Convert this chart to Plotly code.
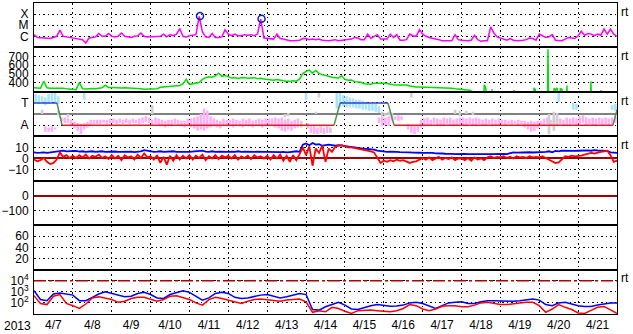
import plotly.graph_objects as go
import pandas as pd

T0 = pd.Timestamp("2013-04-07 00:00")
T1 = pd.Timestamp("2013-04-22 00:00")

# ---------------- data (2-hour samples from 4/7 00UT) ----------------
xray_log = [
    -5.85, -6.1, -6.12, -6.15, -6.2, -6.2, -6.1, -6.0, -5.45, -6.0, -6.05, -6.1,
    -6.2, -6.25, -6.25, -6.3, -6.6, -6.15, -6.1, -6.05, -5.75, -6.0, -6.0, -5.75,
    -6.0, -6.05, -6.0, -5.7, -6.0, -6.05, -6.1, -6.0, -5.95, -5.7, -6.0, -6.05,
    -6.05, -6.0, -6.05, -6.0, -5.8, -6.05, -5.85, -5.95, -5.8, -5.3, -6.0, -6.05,
    -5.95, -5.9, -5.85, -4.2, -5.6, -6.05, -6.1, -5.75, -6.1, -6.1, -6.05, -5.4,
    -5.8, -5.95, -5.8, -5.95, -5.95, -5.85, -5.9, -5.85, -5.95, -5.8, -4.45, -6.15,
    -6.2, -6.2, -6.25, -5.8, -6.2, -6.25, -6.35, -6.4, -6.4, -6.4, -6.35, -6.2,
    -6.2, -6.3, -6.25, -6.3, -6.25, -6.35, -6.4, -6.4, -6.35, -6.3, -6.4, -6.35,
    -6.35, -6.3, -6.25, -6.1, -6.15, -6.3, -6.3, -5.8, -6.2, -6.0, -5.85, -6.25,
    -6.25, -6.25, -5.8, -6.1, -5.85, -6.35, -6.35, -6.3, -5.8, -5.95, -6.0, -5.4,
    -5.8, -6.0, -6.1, -6.15, -6.2, -6.3, -6.4, -6.4, -6.35, -6.4, -5.85, -6.3,
    -6.35, -6.4, -6.4, -6.35, -5.9, -6.3, -6.45, -6.4, -6.4, -5.15, -5.7, -6.05,
    -6.15, -6.3, -6.35, -6.2, -6.35, -6.4, -6.4, -6.35, -6.3, -6.15, -6.2, -6.35,
    -5.8, -5.95, -6.1, -6.05, -5.85, -6.35, -6.4, -6.4, -6.25, -6.1, -6.15, -6.2,
    -5.95, -5.55, -5.9, -5.75, -5.8, -5.95, -5.8, -5.9, -5.35, -5.8, -5.35, -5.8,
    -6.0,
]
flare_h = [102.5, 140.5]
flare_log = [-4.18, -4.42]

speed = [
    345, 342, 340, 420, 345, 340, 342, 338, 340, 342, 335, 330,
    328, 325, 405, 335, 332, 336, 338, 335, 340, 345, 375, 350,
    348, 345, 350, 343, 347, 345, 340, 346, 342, 335, 330, 332,
    335, 338, 335, 352, 355, 358, 362, 365, 362, 372, 390, 440,
    385, 392, 395, 405, 440, 460, 470, 465, 480, 510, 475, 485,
    470, 455, 460, 450, 458, 462, 452, 455, 460, 448, 452, 445,
    440, 435, 430, 438, 428, 425, 420, 418, 425, 420, 445, 505,
    530, 545, 510, 540, 505, 495, 485, 470, 465, 460, 455, 480,
    440, 430, 432, 415, 410, 408, 392, 388, 386, 398, 400, 396,
    398, 395, 385, 380, 378, 376, 375, 378, 365, 358, 355, 356,
    355, 352, 350, 348, 345, 344, 346, 343, 342, 340, 335, 332,
    330, 328, 322, 315,
]
# sparse solar-wind samples after the data gap (hours, km/s; 0 = fill value)
speed_tail_h = [270, 271, 277.5, 278, 278.8, 279.3, 282.3, 282.8, 283.3, 296, 296.4, 296.9,
                308.4, 308.8, 309.6, 310, 317, 317.4, 317.9, 320.8, 321.1, 322, 323, 324,
                324.5, 325, 326, 327, 328.7, 329.1, 329.6, 343.5, 343.9, 344.4, 349.8,
                350.1, 350.6, 360]
speed_tail_v = [315, 0, 0, 380, 350, 0, 0, 330, 0, 0, 320, 0,
                0, 345, 325, 0, 0, 780, 0, 0, 340, 320, 345, 0,
                0, 335, 330, 0, 0, 370, 0, 0, 420, 0, 0,
                320, 0, 0]

# IMF sector (2-hour bins): away (pink) band low/high
away_lo = [
    None, None, None, -1.6, -1.6, -1.6, -1.4, None, -0.6, -0.8, -0.8, -1.0,
    -1.3, -1.5, -1.8, -1.4, -1.2, -1.0, -0.9, -0.9, -0.9, -0.8, -0.9, -0.8,
    -0.8, -0.9, -0.8, -0.9, -0.8, -0.9, -0.8, -0.8, -0.9, -0.8, -0.7, -0.8,
    -1.0, -0.9, -1.0, -1.1, -1.2, -1.0, -1.1, -0.9, -1.0, -1.1, -1.2, -1.0,
    -1.2, -1.3, -1.5, -1.4, -1.5, -1.3, -1.2, -1.1, -1.2, -1.3, -1.0, -1.1,
    -1.1, -1.2, -1.0, -1.1, -1.2, -1.0, -1.1, -1.2, -1.0, -1.1, -1.2, -1.0,
    -1.0, -1.1, -1.2, -1.3, -1.5, -1.6, -1.4, -1.5, -1.3, -1.2, None, None,
    -1.3, -1.7, -1.8, -1.8, -1.7, -1.8, -1.7, -1.6, None, None, None, None,
    None, None, None, None, None, None, None, None, None, None, -0.8, -1.1,
    -1.0, -1.1, -0.6, -0.5, -0.6, -0.5, None, -1.4, -1.7, -1.8, -1.6, -1.2,
    -1.1, -1.0, -1.1, -0.9, -1.0, -1.1, -1.0, -0.9, -1.0, -1.1, -1.0, -0.9,
    -1.0, -1.1, -0.9, -1.0, -1.1, -0.9, -1.0, -1.0, -0.9, -1.1, -1.0, -1.0,
    -0.9, -1.0, -0.9, -1.0, -0.9, -1.0, -0.9, -1.2, -1.4, -1.6, -1.5, -1.3,
    -1.1, -1.0, -0.9, -1.0, -1.1, -1.0, -0.9, -1.0, -1.1, -1.0, -0.9, -1.0,
    -0.9, -0.8, -1.0, -0.9, -1.0, -1.1, -0.9, -1.0, -0.9, -1.0, -0.9, -0.8,
]
away_hi = [
    None, None, None, -1.1, -1.2, -1.1, -1.2, None, -0.3, -0.3, -0.4, -0.5,
    -0.7, -0.8, -0.9, -0.8, -0.7, -0.5, -0.5, -0.5, -0.5, -0.5, -0.5, -0.4,
    -0.4, -0.5, -0.4, -0.5, -0.4, -0.5, -0.4, -0.5, -0.4, -0.3, -0.2, -0.3,
    -0.5, -0.3, -0.4, -0.5, -0.6, -0.5, -0.5, -0.4, -0.5, -0.6, -0.6, -0.4,
    -0.4, -0.3, -0.2, 0.0, 0.5, 0.3, -0.2, -0.4, -0.5, -0.6, -0.4, -0.5,
    -0.5, -0.4, -0.5, -0.6, -0.4, -0.5, -0.4, -0.6, -0.5, -0.4, -0.5, -0.4,
    -0.4, -0.4, -0.3, -0.4, -0.3, -0.5, -0.4, -0.6, -0.5, -0.4, None, None,
    -0.8, -1.1, -1.1, -1.2, -1.0, -1.2, -1.1, -1.2, None, None, None, None,
    None, None, None, None, None, None, None, None, None, None, -0.3, -0.2,
    -0.3, -0.2, -0.2, -0.2, -0.1, -0.2, None, -0.9, -1.0, -1.1, -1.0, -0.5,
    -0.4, -0.3, -0.5, -0.3, -0.4, -0.5, -0.3, -0.4, -0.3, -0.5, -0.4, -0.3,
    -0.3, -0.4, -0.3, -0.4, -0.3, -0.4, -0.5, -0.4, -0.5, -0.4, -0.5, -0.4,
    -0.5, -0.5, -0.6, -0.5, -0.6, -0.5, -0.6, -0.6, -0.7, -0.6, -0.7, -0.6,
    -0.6, -0.4, -0.3, -0.5, -0.4, -0.3, -0.4, -0.5, -0.3, -0.4, -0.3, -0.4,
    -0.2, -0.1, -0.3, -0.4, -0.3, -0.4, -0.3, -0.4, -0.3, -0.4, -0.3, -0.2,
]
# toward (light blue) samples: hour, low, high
toward_h = [1, 3, 5, 7, 9, 11, 13, 15, 31, 168, 187, 189, 191, 193, 195, 197, 199, 201,
            203, 205, 207, 209, 211, 213, 324, 333, 335, 357, 359]
toward_lo = [1.0, 0.9, 1.0, 0.8, 0.9, 1.1, 1.0, 0.9, 1.3, 1.3, 0.5, 0.6, 0.7, 0.6, 0.6, 0.6,
             0.5, 0.5, 0.4, 0.4, 0.3, 0.3, 0.2, 0.1, 1.1, 0.4, 0.4, 0.4, 0.3]
toward_hi = [1.8, 1.7, 1.6, 1.5, 1.8, 1.9, 1.9, 1.6, 1.9, 1.9, 1.9, 1.9, 1.7, 1.6, 1.5, 1.4,
             1.3, 1.3, 1.2, 1.1, 1.0, 0.9, 0.9, 0.7, 1.9, 1.0, 0.9, 0.8, 0.9]
# unclassified (gray) samples
gray_h = [5, 15, 21, 73, 155, 157, 165, 174, 176, 179, 183, 215, 217, 219, 221, 233,
          260, 263, 267, 271, 318, 321, 323]
gray_lo = [0.0, -0.1, -0.3, 0.0, -0.3, -0.2, -1.2, 0.0, 1.5, -1.8, -1.7, -0.2, -0.2, -0.1,
           -0.3, 1.5, 0.0, -0.2, 0.0, -0.1, -1.8, -1.5, -1.0]
gray_hi = [0.4, 0.3, 0.0, 0.8, 0.0, 0.1, -0.6, 0.2, 1.9, -1.3, -1.4, 0.2, 0.1, 0.2, 0.1,
           1.9, 0.4, 0.3, 0.3, 0.2, 0.0, 0.2, 0.1]
# predicted sector (T = 1, A = -1)
sector_h = [0, 14.2, 17.3, 185.3, 189.0, 218.6, 222.3, 357.5, 360.0]
sector_v = [1, 1, -1, -1, 1, 1, -1, -1, 0.4]

bt = [
    5.5, 5.0, 5.2, 5.5, 5.0, 5.3, 5.8, 6.0, 6.5, 7.0, 6.5, 6.8,
    6.5, 6.8, 6.2, 6.5, 6.0, 6.3, 6.5, 6.0, 6.2, 6.5, 6.0, 6.2,
    6.0, 6.3, 6.0, 6.2, 5.8, 6.0, 6.2, 5.8, 6.0, 6.5, 7.5, 7.0,
    6.5, 6.0, 6.2, 6.5, 6.0, 6.3, 6.0, 6.5, 6.0, 5.8, 6.2, 6.0,
    6.0, 6.3, 6.0, 6.5, 7.0, 6.2, 6.0, 6.5, 6.0, 6.2, 6.0, 6.3,
    6.0, 6.2, 6.0, 6.5, 6.0, 6.2, 6.0, 5.8, 6.0, 6.2, 5.8, 6.0,
    6.0, 5.8, 6.0, 5.5, 5.8, 6.0, 5.5, 5.8, 6.0, 6.5, 6.0, 12.5,
    13.5, 12.0, 14.0, 12.5, 13.0, 11.5, 12.0, 12.5, 12.0, 11.5, 12.0, 11.5,
    11.0, 10.5, 10.0, 9.8, 9.5, 9.2, 9.0, 8.8, 8.5, 8.0, 7.0, 6.5,
    6.3, 6.0, 6.2, 5.8, 6.0, 5.7, 5.8, 5.5, 5.6, 5.3, 5.5, 5.2,
    5.0, 5.2, 4.8, 5.0, 4.6, 4.8, 4.5, 4.3, 4.5, 4.2, 4.0, 4.2,
    4.0, 4.2, 3.9, 4.0, 4.1, 3.8, 4.0, 4.2, 4.0, 3.9, 4.1, 4.0,
    4.0, 4.2, 4.0, 4.5, 5.5, 5.3, 5.5, 5.2, 5.5, 5.6, 5.4, 5.5,
    5.5, 5.3, 6.0, 6.5, 5.5, 6.8, 6.5, 7.0, 6.8, 7.2, 7.0, 6.8,
    7.0, 7.2, 7.0, 7.3, 7.0, 7.5, 7.2, 7.0, 7.3, 6.8, 5.5, 5.0,
    5.0,
]
bz = [
    -1.0, -2.5, -1.5, 0.5, -3.0, -5.0, -4.0, -1.0, 5.5, 1.5, 3.0, 0.5,
    2.5, 0.5, 3.0, 1.0, 3.5, 0.0, 2.5, 1.5, 3.5, 0.5, 2.0, -0.5,
    3.0, 0.0, 2.5, -1.5, 3.0, 1.0, 2.0, -1.0, 3.5, 0.5, 4.5, 1.0,
    2.0, -1.0, 3.0, -4.0, 1.5, -5.5, 2.5, -2.0, 3.0, -1.0, 2.5, 0.0,
    3.0, -1.0, 2.5, 0.5, 3.5, -1.5, 2.0, 0.0, 3.0, -0.5, 2.5, 1.0,
    2.5, 0.0, 3.0, -1.0, 2.0, 0.5, 2.5, -0.5, 3.0, 1.0, 2.0, 0.0,
    2.5, -1.0, 3.0, 0.0, 3.5, -2.0, 2.5, -3.0, 3.0, -1.5, 4.0, 10.0,
    3.0, 11.0, -6.5, 9.0, 5.0, 11.5, -3.0, 9.0, 6.0, 10.5, 11.5, 12.0,
    11.0, 10.0, 10.0, 9.5, 9.0, 8.0, 7.5, 7.0, 6.5, 5.5, 1.0, -4.0,
    -2.0, -3.0, -1.5, -2.5, -1.0, -2.0, -1.5, -2.5, -4.0, -3.0, -2.5, -1.0,
    0.5, -1.0, 1.0, -1.5, 0.0, 1.5, -1.0, 0.5, -0.5, 1.0, -1.5, 0.0,
    0.0, -1.5, 0.5, -2.0, 1.0, -1.0, 0.0, -1.5, 1.0, 2.0, 0.5, 1.5,
    1.0, 2.0, 0.5, 1.5, 0.0, 2.0, 1.0, 1.5, 0.5, 2.0, 1.0, 1.5,
    1.0, 2.0, 0.5, -1.0, -3.0, -4.0, -3.5, -1.0, 2.0, 1.5, 2.5, 2.0,
    2.0, 2.5, 3.5, 4.0, 5.0, 4.5, 5.5, 6.0, 6.5, 7.0, 3.0, -3.0,
    -2.0,
]

# electron flux, log10 (4-hour samples)
e_blue_log = [
    3.1, 2.3, 2.2, 2.8, 2.9, 2.8,
    2.7, 2.2, 2.2, 2.5, 2.8, 3.0,
    2.85, 2.65, 2.55, 2.6, 2.85, 2.95,
    2.75, 2.45, 2.4, 2.75, 2.95, 3.1,
    2.95, 2.6, 2.25, 2.45, 2.85, 2.95,
    2.85, 2.5, 2.4, 2.45, 2.6, 2.7,
    2.75, 2.6, 2.45, 2.55, 2.7, 2.85,
    2.75, 1.4, 1.35, 1.65, 1.85, 2.05,
    1.8, 1.45, 1.4, 1.6, 1.75, 1.85,
    1.8, 1.7, 1.72, 1.8, 2.0, 2.05,
    1.95, 1.7, 1.5, 1.75, 2.0, 2.05,
    2.1, 1.95, 1.95, 2.1, 2.2, 2.2,
    2.18, 2.15, 2.15, 2.2, 2.25, 2.35,
    2.25, 1.85, 1.75, 2.0, 2.05, 1.9,
    1.75, 1.68, 1.68, 1.8, 1.92, 1.98,
    1.98,
]
e_red_log = [
    2.65, 1.95, 1.85, 2.6, 2.75, 1.95,
    1.75, 1.5, 1.9, 2.45, 2.55, 2.45,
    2.3, 2.05, 2.15, 2.4, 2.5, 2.5,
    2.3, 2.15, 2.3, 2.6, 2.65, 2.5,
    2.3, 2.0, 1.8, 2.3, 2.5, 2.4,
    2.25, 2.05, 1.95, 2.15, 2.3, 2.35,
    2.3, 2.2, 2.15, 2.25, 2.3, 2.35,
    2.1, 1.15, 1.3, 1.2, 1.6, 1.5,
    1.25, 1.05, 1.3, 1.35, 1.35, 1.3,
    1.25, 1.2, 1.3, 1.5, 1.85, 1.75,
    1.45, 1.3, 1.45, 1.7, 1.75, 1.75,
    1.65, 1.65, 1.8, 2.0, 2.05, 1.95,
    1.85, 1.85, 1.95, 2.0, 2.05, 2.05,
    1.75, 1.15, 1.45, 1.85, 1.6, 1.4,
    1.1, 1.05, 1.33, 1.6, 1.68, 1.38,
    1.05,
]
e_alert = 1e4

date_labels_fmt = "%-m/%-d"

# ---------------- helpers ----------------
def t_at(hours):
    return [T0 + pd.Timedelta(hours=float(h)) for h in hours]

t2 = t_at([2 * i for i in range(181)])
t4 = t_at([4 * i for i in range(91)])
tbin = t_at([2 * i + 1 for i in range(180)])

fig = go.Figure()

def add(tr, k):
    tr.update(xaxis="x" if k == 1 else f"x{k}", yaxis="y" if k == 1 else f"y{k}")
    fig.add_trace(tr)

# panel 1: X-ray
add(go.Scatter(x=t2, y=[10 ** v for v in xray_log], mode="lines",
               line=dict(color="#ff00ff", width=1.5)), 1)
add(go.Scatter(x=t_at(flare_h), y=[10 ** v for v in flare_log], mode="markers",
               marker=dict(symbol="circle-open", size=7, color="#1020c0",
                           line=dict(width=1.5, color="#1020c0"))), 1)

# panel 2: solar wind speed
speed_full = speed + [None] * (181 - len(speed))
add(go.Scatter(x=t2, y=speed_full, mode="lines",
               line=dict(color="#00e000", width=1.5)), 2)
add(go.Scatter(x=t_at(speed_tail_h), y=speed_tail_v, mode="lines",
               line=dict(color="#00e000", width=1.5)), 2)

# panel 3: IMF sector
BW = 1.6 * 3600 * 1000

def bands(times, lo, hi, color):
    xs, base, h = [], [], []
    for t, a, b in zip(times, lo, hi):
        if a is None or b is None:
            continue
        xs.append(t)
        base.append(a)
        h.append(b - a)
    return go.Bar(x=xs, y=h, base=base, width=BW, marker=dict(color=color, line=dict(width=0)))

add(bands(tbin, away_lo, away_hi, "#ffb0f4"), 3)
add(bands(t_at(toward_h), toward_lo, toward_hi, "#a8e4ff"), 3)
add(bands(t_at(gray_h), gray_lo, gray_hi, "#cfcfcf"), 3)

seg = {"T": ([], []), "A": ([], []), "X": ([], [])}
st = t_at(sector_h)
for i in range(len(sector_v) - 1):
    v0, v1 = sector_v[i], sector_v[i + 1]
    key = "T" if v0 == v1 == 1 else ("A" if v0 == v1 == -1 else "X")
    seg[key][0].extend([st[i], st[i + 1], None])
    seg[key][1].extend([v0, v1, None])
for key, col in (("X", "#4f8f4f"), ("T", "#3344cc"), ("A", "#dd2020")):
    add(go.Scatter(x=seg[key][0], y=seg[key][1], mode="lines",
                   line=dict(color=col, width=1.5)), 3)

# panel 4: IMF Bt / Bz
add(go.Scatter(x=t2, y=bt, mode="lines", line=dict(color="#0000ff", width=1.8)), 4)
add(go.Scatter(x=t2, y=bz, mode="lines", line=dict(color="#ff0000", width=1.8)), 4)

# panels 5, 6: no data in this period
add(go.Scatter(x=[T0], y=[None], mode="lines"), 5)
add(go.Scatter(x=[T0], y=[None], mode="lines"), 6)

# panel 7: electron flux
add(go.Scatter(x=[T0, T1], y=[e_alert, e_alert], mode="lines",
               line=dict(color="#b00000", width=1.5, dash="12px,3px,3px,3px")), 7)
add(go.Scatter(x=t4, y=[10 ** v for v in e_blue_log], mode="lines",
               line=dict(color="#0000ff", width=1.5)), 7)
add(go.Scatter(x=t4, y=[10 ** v for v in e_red_log], mode="lines",
               line=dict(color="#ff0000", width=1.5)), 7)

# ---------------- layout ----------------
PH = 315.0
panels = {
    1: dict(type="log", range=[-7, -3], tickvals=[1e-6, 1e-5, 1e-4], ticktext=["C", "M", "X"]),
    2: dict(range=[300, 800], tickvals=[400, 500, 600, 700]),
    3: dict(range=[-2, 2], tickvals=[1, -1], ticktext=["T", "A"],
            zeroline=True, zerolinecolor="#808080", zerolinewidth=2),
    4: dict(range=[-20, 20], tickvals=[10, 0, -10],
            zeroline=True, zerolinecolor="#a00000", zerolinewidth=1.5),
    5: dict(range=[-200, 100], tickvals=[0, -100],
            zeroline=True, zerolinecolor="#a00000", zerolinewidth=1.5),
    6: dict(range=[0, 80], tickvals=[20, 40, 60]),
    7: dict(type="log", range=[1, 5], tickvals=[1e2, 1e3, 1e4],
            ticktext=["10<sup>2</sup>", "10<sup>3</sup>", "10<sup>4</sup>"]),
}
font = dict(family="Liberation Sans, Arial, sans-serif", size=12, color="black")
GRID = dict(showgrid=True, gridcolor="black", gridwidth=1, griddash="1.5px,3px")
lay = {}
for k in range(1, 8):
    top = (PH - 45 * (k - 1)) / PH
    bot = (PH - 45 * k) / PH
    ya = dict(domain=[bot, top], showline=True, mirror=True, linecolor="black",
              linewidth=1, ticks="", zeroline=False, tickfont=font, fixedrange=True,
              ticklabelstandoff=2, anchor="x" if k == 1 else f"x{k}", **GRID)
    ya.update(panels[k])
    xa = dict(type="date", range=[T0, T1], dtick=86400000, tick0=T0, showline=True,
              mirror=True, linecolor="black", linewidth=1, ticks="",
              showticklabels=(k == 7), zeroline=False,
              anchor="y" if k == 1 else f"y{k}", fixedrange=True, **GRID)
    if k > 1:
        xa["matches"] = "x"
    if k == 7:
        xa.update(ticklabelmode="period", tickformat=date_labels_fmt, tickfont=font)
    lay["yaxis" if k == 1 else f"yaxis{k}"] = ya
    lay["xaxis" if k == 1 else f"xaxis{k}"] = xa

anns = [dict(text="2013", xref="paper", yref="paper", x=-0.029, y=0, xanchor="center",
             yanchor="top", yshift=-3, showarrow=False, font=font)]
for ypx in (11, 56, 101, 146, 281):
    anns.append(dict(text="rt", xref="paper", yref="paper", x=1, y=(317 - ypx) / PH,
                     xanchor="left", yanchor="middle", xshift=2, showarrow=False, font=font))

fig.update_layout(
    width=633, height=334, margin=dict(l=33, r=16, t=2, b=17),
    paper_bgcolor="white", plot_bgcolor="white", showlegend=False,
    barmode="overlay", annotations=anns, **lay,
)
fig.write_html("out.html")
